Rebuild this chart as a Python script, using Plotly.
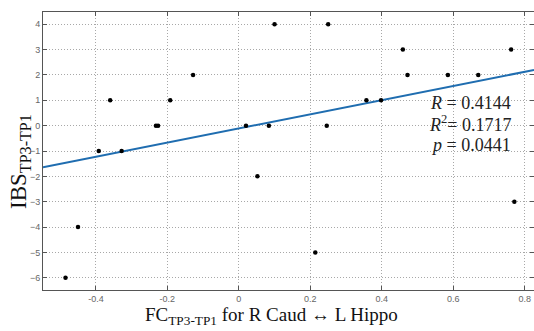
import plotly.graph_objects as go

fc = [-0.36, -0.392, -0.328, -0.232, -0.226, -0.192, -0.128, 0.02, 0.084,
      0.10, 0.25, 0.246, 0.459, 0.762, 0.472, 0.585, 0.67, 0.357, 0.398,
      0.052, -0.45, -0.485, 0.771, 0.214]
ibs = [1, -1, -1, 0, 0, 1, 2, 0, 0,
       4, 4, 0, 3, 3, 2, 2, 2, 1, 1,
       -2, -4, -6, -3, -5]

fit_x = [-0.548, 0.826]
fit_slope = 2.79
fit_intercept = -0.11
fit_y = [fit_slope * v + fit_intercept for v in fit_x]

x_ticks = [-0.4, -0.2, 0, 0.2, 0.4, 0.6, 0.8]
x_tick_labels = ["-0.4", "-0.2", "0", "0.2", "0.4", "0.6", "0.8"]
y_ticks = [4, 3, 2, 1, 0, -1, -2, -3, -4, -5, -6]

stats = ["<i>R</i> = 0.4144", "<i>R</i><sup>2</sup>= 0.1717", "<i>p</i> = 0.0441"]

fig = go.Figure()
fig.add_trace(go.Scatter(x=fit_x, y=fit_y, mode="lines",
                         line=dict(color="#1f6db0", width=2), showlegend=False))
fig.add_trace(go.Scatter(x=fc, y=ibs, mode="markers",
                         marker=dict(color="black", size=4.5), showlegend=False))

axis_common = dict(showline=True, linecolor="#555555", linewidth=1, mirror="ticks",
                   ticks="inside", ticklen=4, tickcolor="#555555",
                   showgrid=True, gridcolor="#a8a8a8", griddash="1px,2px", gridwidth=1,
                   zeroline=False,
                   tickfont=dict(family="Liberation Sans, Arial", size=9, color="#666666"))

fig.update_xaxes(range=[-0.548, 0.826], tickvals=x_ticks, ticktext=x_tick_labels, **axis_common)
fig.update_yaxes(range=[-6.48, 4.48], tickvals=y_ticks, **axis_common)

serif = "Liberation Serif, DejaVu Serif, serif"
ys = [103, 124, 145]
for s, yp in zip(stats, ys):
    fig.add_annotation(text=s, xref="paper", yref="paper", x=(513 - 43) / 491,
                       y=1 - (yp - 12) / 278, xanchor="right", yanchor="middle",
                       showarrow=False, font=dict(family=serif, size=18, color="#222222"))

fig.add_annotation(text="FC<sub>TP3-TP1</sub> for R Caud ↔ L Hippo", xref="paper", yref="paper",
                   x=(271 - 43) / 491, y=1 - (316 - 12) / 278, xanchor="center", yanchor="middle",
                   showarrow=False, font=dict(family=serif, size=19, color="#111111"))
fig.add_annotation(text="IBS<sub>TP3-TP1</sub>", xref="paper", yref="paper",
                   x=(20 - 43) / 491, y=1 - (162 - 12) / 278, xanchor="center", yanchor="middle",
                   textangle=-90, showarrow=False,
                   font=dict(family=serif, size=23, color="#111111"))

fig.update_layout(width=534, height=331, margin=dict(l=43, r=0, t=12, b=41),
                  plot_bgcolor="white", paper_bgcolor="white")
fig.write_html("out.html")
